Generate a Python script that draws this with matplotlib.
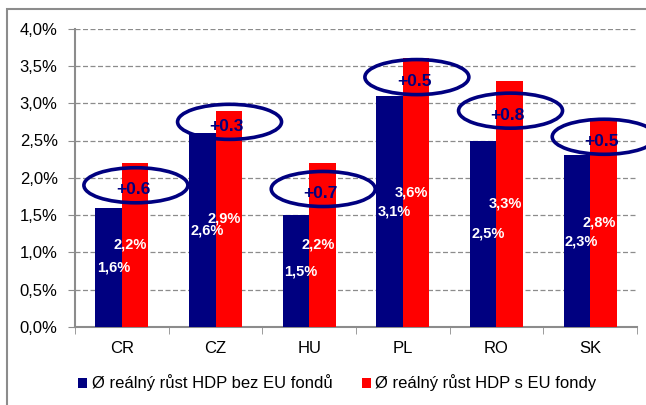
import numpy as np
import matplotlib
matplotlib.use("Agg")
import matplotlib.pyplot as plt
from matplotlib.patches import Ellipse, Rectangle
from matplotlib.ticker import FuncFormatter

plt.rcParams['font.family'] = ['Liberation Sans', 'DejaVu Sans']

countries = ['CR', 'CZ', 'HU', 'PL', 'RO', 'SK']
growth_without = [1.6, 2.6, 1.5, 3.1, 2.5, 2.3]
growth_with = [2.2, 2.9, 2.2, 3.6, 3.3, 2.8]
series_names = ['Ø reálný růst HDP bez EU fondů', 'Ø reálný růst HDP s EU fondy']

navy = '#000080'
red = '#FF0000'

fig = plt.figure(figsize=(6.46, 4.05), dpi=100)
fig.patches.append(Rectangle((7/646, -0.1), 1.2, 1.1 - 9/405, transform=fig.transFigure,
                             fill=False, edgecolor='#8c8c8c', lw=1.5, zorder=0))
ax = fig.add_axes([75/646, 1 - 327/405, 562/646, 298.4/405])

x = np.arange(len(countries))
w = 0.283
ax.bar(x - w/2, growth_without, w, color=navy, label=series_names[0], zorder=3)
ax.bar(x + w/2, growth_with, w, color=red, label=series_names[1], zorder=3)

for i, (a, b) in enumerate(zip(growth_without, growth_with)):
    ax.text(i - w/2 + 0.05, a/2, f'{a:.1f}%'.replace('.', ','), color='white',
            fontsize=10.5, fontweight='bold', ha='center', va='center', zorder=5)
    ax.text(i + w/2 - 0.05, b/2, f'{b:.1f}%'.replace('.', ','), color='white',
            fontsize=10.5, fontweight='bold', ha='center', va='center', zorder=5)
    cy = (a + b) / 2
    ax.add_patch(Ellipse((i + 0.15, cy), 1.11, 0.47, fill=False, edgecolor=navy,
                         lw=2.6, zorder=6, clip_on=False))
    ax.text(i + 0.12, cy - 0.06, f'+{b - a:.1f}', color=navy, fontsize=12.5,
            fontweight='bold', ha='center', va='center', zorder=7)

ax.set_xlim(-0.5, 5.5)
ax.set_ylim(0, 4.0)
ax.set_yticks(np.arange(0, 4.01, 0.5))
ax.yaxis.set_major_formatter(FuncFormatter(lambda v, p: f'{v:.1f}%'.replace('.', ',')))
ax.set_xticks(x)
ax.set_xticklabels(countries)
ax.set_xticks(np.arange(-0.5, 6.0, 1.0), minor=True)
ax.tick_params(axis='x', which='major', length=0, pad=10, labelsize=12)
ax.tick_params(axis='x', which='minor', length=5, color='#8c8c8c', direction='out')
ax.tick_params(axis='y', length=5, color='#8c8c8c', pad=7.5, labelsize=12)
ax.yaxis.grid(True, linestyle=(0, (4, 2)), color='#8c8c8c', lw=0.9, zorder=0)
ax.set_axisbelow(True)
for s in ['top', 'right']:
    ax.spines[s].set_visible(False)
for s in ['left', 'bottom']:
    ax.spines[s].set_color('#8c8c8c')
    ax.spines[s].set_linewidth(1.5)

fig.legend(loc='center', bbox_to_anchor=(0.522, 1 - 383/405), ncol=2, frameon=False,
           fontsize=12, handlelength=0.55, handleheight=0.55, handletextpad=0.25,
           columnspacing=1.75)

fig.savefig('out.png', dpi=100)
